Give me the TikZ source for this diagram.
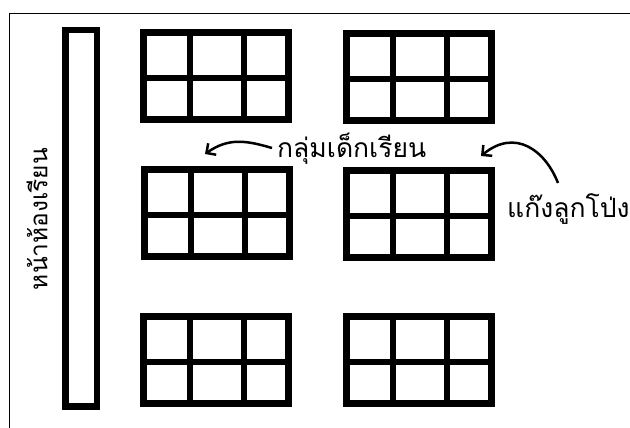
\documentclass[tikz,border=0pt]{standalone}
\usepackage{fontspec}
\newfontfamily\thai[Script=Thai]{Loma}
\usetikzlibrary{arrows.meta}
\tikzset{
  desk/.style={draw, line width=7pt, minimum width=145pt, minimum height=87pt, inner sep=0pt, outer sep=0pt, anchor=north west},
  divider/.style={line width=6pt},
  podiumbox/.style={draw, line width=6.5pt, minimum width=31.5pt, minimum height=376pt, inner sep=0pt, outer sep=0pt, anchor=north west},
  label/.style={font=\thai\fontsize{26.5}{30}\selectfont, inner sep=0pt},
  sidelabel/.style={font=\thai\fontsize{24.5}{28}\selectfont, inner sep=0pt},
  pointer/.style={line width=2.5pt, -{Straight Barb[length=7pt,width=14pt]}},
  frameline/.style={line width=1.5pt}
}
\newcommand\deskgrid[3]{%
  \node[desk] (#1) at (#2pt+3.5pt,-#3pt-3.5pt) {};
  \draw[divider] ([xshift=46.5pt]#1.north west) -- ([xshift=46.5pt,yshift=-3pt]#1.south west);
  \draw[divider] ([xshift=100.5pt]#1.north west) -- ([xshift=100.5pt,yshift=-3pt]#1.south west);
  \draw[divider] ([yshift=-45.5pt]#1.north west) -- ([yshift=-45.5pt]#1.north east);
}
\begin{document}
\begin{tikzpicture}
\useasboundingbox (0pt,0pt) rectangle (630pt,-428pt);
\fill[white] (0pt,0pt) rectangle (630pt,-428pt);
\draw[frameline] (9.5pt,-430pt) -- (9.5pt,-13.5pt) -- (632pt,-13.5pt);
\node[podiumbox] (podium) at (65.25pt,-30.25pt) {};
\node[sidelabel, rotate=90] (front) at (37pt,-219pt) {หน้าห้องเรียน};
\deskgrid{d1}{140}{29}
\deskgrid{d2}{343}{30}
\deskgrid{d3}{141}{166}
\deskgrid{d4}{343}{167}
\deskgrid{d5}{140}{313}
\deskgrid{d6}{343}{313}
\node[label, anchor=west] (students) at (277pt,-149pt) {กลุ่มเด็กเรียน};
\node[label, anchor=west] (gang) at (507pt,-209pt) {แก๊งลูกโป่ง};
\coordinate (tipa) at (205pt,-154pt);
\coordinate (taila) at (272pt,-148pt);
\draw[pointer] (taila) .. controls (245pt,-140pt) and (228pt,-138pt) .. (tipa);
\coordinate (tailb) at (558pt,-183pt);
\coordinate (tipb) at (481pt,-156pt);
\draw[pointer] (tailb) .. controls (545pt,-150pt) and (515pt,-128pt) .. (tipb);
\end{tikzpicture}
\end{document}
